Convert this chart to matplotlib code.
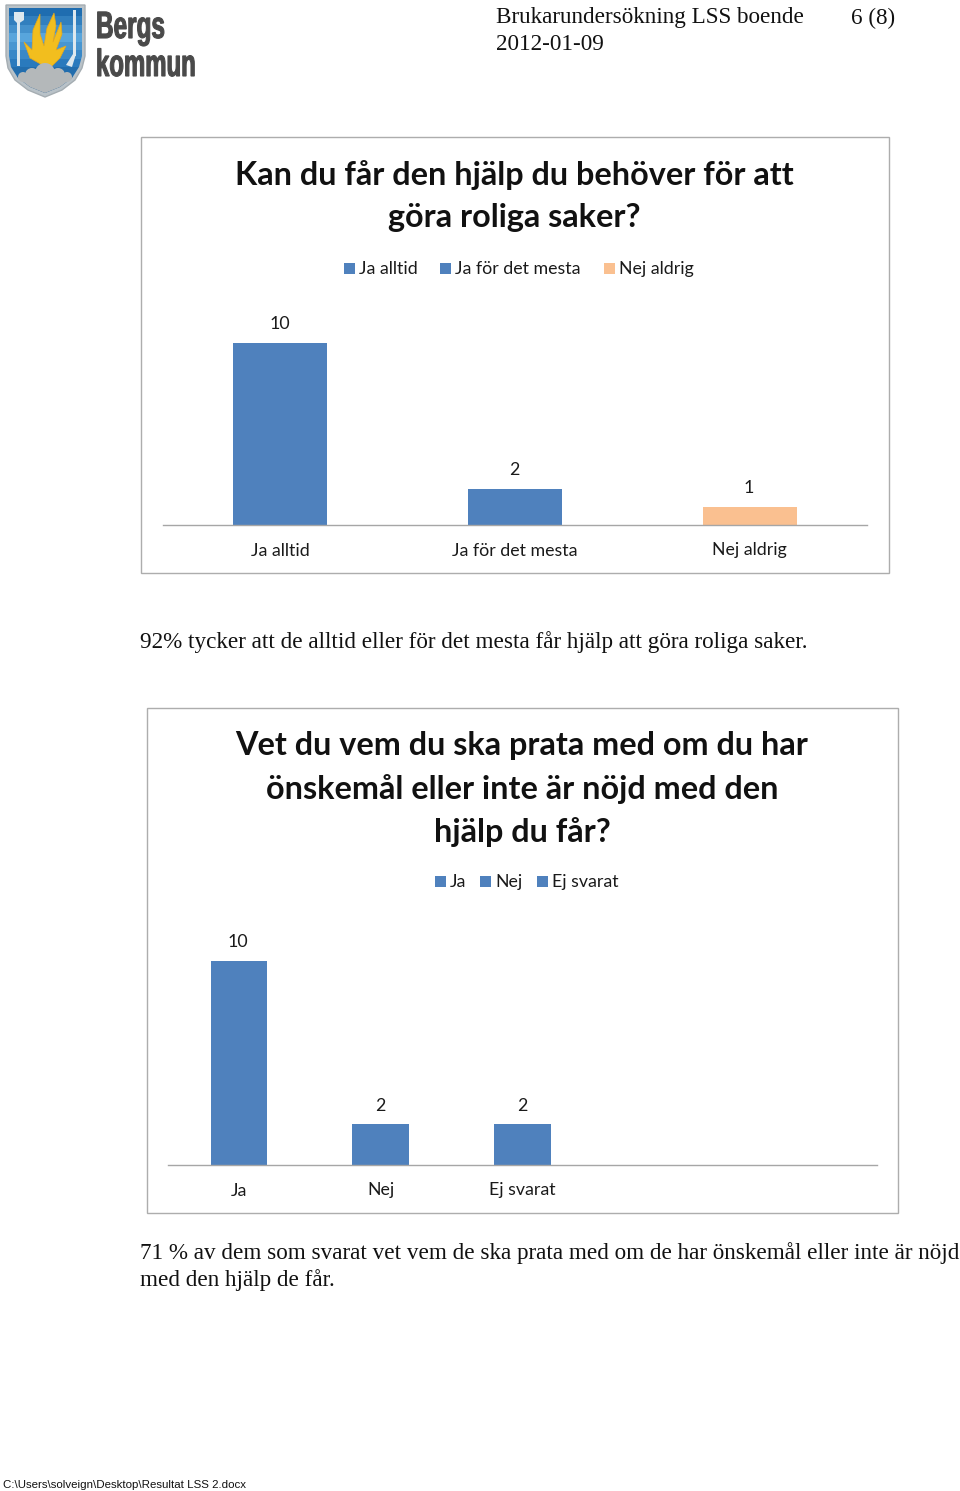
import matplotlib
matplotlib.use('Agg')
import matplotlib.pyplot as plt
from matplotlib.patches import Rectangle, Polygon, Circle, PathPatch
from matplotlib.textpath import TextPath
from matplotlib.font_manager import FontProperties
from matplotlib.transforms import Affine2D
from matplotlib.colors import LinearSegmentedColormap

W, H = 960, 1491

# chart 1
title1 = 'Kan du får den hjälp du behöver för att\ngöra roliga saker?'
cats1 = ['Ja alltid', 'Ja för det mesta', 'Nej aldrig']
vals1 = [10, 2, 1]
cols1 = ['#4F81BD', '#4F81BD', '#FAC090']

# chart 2, five slots on the axis but only three are used
title2 = 'Vet du vem du ska prata med om du har\nönskemål eller inte är nöjd med den\nhjälp du får?'
cats2 = ['Ja', 'Nej', 'Ej svarat']
vals2 = [10, 2, 2]
cols2 = ['#4F81BD', '#4F81BD', '#4F81BD']
slots2 = 5

header_left = 'Brukarundersökning LSS boende'
header_date = '2012-01-09'
header_page = '6 (8)'
text1 = '92% tycker att de alltid eller för det mesta får hjälp att göra roliga saker.'
text2a = '71 % av dem som svarat vet vem de ska prata med om de har önskemål eller inte är nöjd'
text2b = 'med den hjälp de får.'
footer = 'C:\\Users\\solveign\\Desktop\\Resultat LSS 2.docx'

SANS = 'Lato'
SERIF = 'Liberation Serif'
TXT = '#1a1a1a'
BODY = 16.65

fig = plt.figure(figsize=(W / 100, H / 100), dpi=100, facecolor='white')

# page layer in pixel coordinates
page = fig.add_axes([0, 0, 1, 1])
page.set_xlim(0, W)
page.set_ylim(H, 0)
page.axis('off')


def bar_chart(frame, axis_box, ymax, cats, vals, cols, nslots, title, title_x, title_y, legend_items, legend_y):
    fx0, fy0, fx1, fy1 = frame
    page.add_patch(Rectangle((fx0, fy0), fx1 - fx0, fy1 - fy0, fc='white', ec='#ADADAD', lw=1.0))

    x0, y0, x1, y1 = axis_box       # pixels: left, top, right, baseline
    ax = fig.add_axes([x0 / W, 1 - y1 / H, (x1 - x0) / W, (y1 - y0) / H])
    ax.patch.set_alpha(0)
    xs = list(range(len(cats)))
    ax.bar(xs, vals, width=0.4, color=cols)
    ax.set_xlim(-0.5, nslots - 0.5)
    ax.set_ylim(0, ymax)
    for x, v in zip(xs, vals):
        ax.annotate(str(v), (x, v), xytext=(-0.5, 13.4), textcoords='offset points', ha='center', va='center',
                    fontsize=12.8, family=SANS, color=TXT)
    ax.set_xticks(xs)
    ax.set_xticklabels(cats, fontsize=12.8, family=SANS, color=TXT)
    ax.tick_params(axis='x', length=0, pad=12.6)
    ax.set_yticks([])
    for s in ['top', 'left', 'right']:
        ax.spines[s].set_visible(False)
    ax.spines['bottom'].set_color('#A6A6A6')
    ax.spines['bottom'].set_linewidth(1.0)

    page.text(title_x, title_y, title, ha='center', va='top',
              fontsize=23.3, fontweight='bold', family=SANS, color='#111111', linespacing=1.53)

    for lx, name, c in legend_items:
        page.add_patch(Rectangle((lx, legend_y - 5), 11, 11, fc=c, ec='none'))
        page.text(lx + 15, legend_y + 1, name, ha='left', va='center', fontsize=12.8, family=SANS, color=TXT)


bar_chart((141, 137, 889, 573), (163, 300, 867, 525), 225 / 18.2, cats1, vals1, cols1, 3,
          title1, 514.5, 160, [(344, cats1[0], cols1[0]), (440, cats1[1], cols1[1]), (604, cats1[2], cols1[2])], 268)
bar_chart((147, 708, 898, 1213), (168, 915, 877, 1165), 250 / 20.4, cats2, vals2, cols2, slots2,
          title2, 522, 731.5, [(435, cats2[0], cols2[0]), (480, cats2[1], cols2[1]), (537, cats2[2], cols2[2])], 881)

# running text
page.text(496, 18, header_left, fontsize=BODY, family=SERIF, va='center', color='#111111')
page.text(496, 44, header_date, fontsize=BODY, family=SERIF, va='center', color='#111111')
page.text(851, 18, header_page, fontsize=BODY, family=SERIF, va='center', color='#111111')
page.text(140, 642, text1, fontsize=BODY, family=SERIF, va='center', color='#111111')
page.text(140, 1253, text2a, fontsize=BODY, family=SERIF, va='center', color='#111111')
page.text(140, 1280, text2b, fontsize=BODY, family=SERIF, va='center', color='#111111')
page.text(3, 1485, footer, fontsize=8.25, family='Liberation Sans', va='center', color='#111111')

# logo: shield
shield = [(6, 5), (85, 5), (85, 56), (82, 68), (75, 80), (62, 90), (45, 97), (28, 90), (15, 80), (8, 68), (6, 56)]
page.add_patch(Polygon(shield, closed=True, fc='#B9C2C8', ec='#A5ADB2', lw=1, zorder=0.5))
inner = [(9, 8), (82, 8), (82, 56), (79, 67), (72, 78), (60, 87), (45, 93), (30, 87), (18, 78), (11, 67), (9, 56)]
inner_patch = Polygon(inner, closed=True, fc='none', ec='none', zorder=0.6)
page.add_patch(inner_patch)
blues = LinearSegmentedColormap.from_list('sky', ['#1F6DB0', '#58A5DC', '#2A7ABD', '#14558F'])
im = page.imshow([[i / 9] for i in range(10)], cmap=blues, extent=(9, 82, 93, 8), aspect='auto', zorder=0.8)
im.set_clip_path(inner_patch)
page.set_xlim(0, W)
page.set_ylim(H, 0)
# flame
flame = [(44, 66), (30, 58), (24, 42), (32, 50), (33, 30), (40, 14), (40, 34), (44, 46), (47, 28), (54, 13),
         (56, 26), (53, 42), (61, 22), (62, 34), (56, 50), (66, 46), (60, 58), (52, 66)]
page.add_patch(Polygon(flame, closed=True, fc='#F2BE1E', ec='#E8A818', lw=0.5))
# axe and rifle
page.add_patch(Rectangle((17, 14), 2.5, 52, fc='#DDE8EE', ec='none'))
page.add_patch(Polygon([(14, 12), (24, 12), (24, 20), (18, 24), (14, 20)], closed=True, fc='#DDE8EE', ec='none'))
page.add_patch(Rectangle((73, 10), 2.5, 46, fc='#DDE8EE', ec='none'))
page.add_patch(Polygon([(73, 54), (76, 54), (72, 67), (66, 65)], closed=True, fc='#DDE8EE', ec='none'))
# clouds
for cx, cy, r in [(23, 77, 5), (32, 75, 7), (45, 73, 10), (58, 75, 7), (67, 77, 5)]:
    page.add_patch(Circle((cx, cy), r, fc='#B4B8BA', ec='none'))
page.add_patch(Polygon([(18, 78), (72, 78), (60, 87), (45, 93), (30, 87)], closed=True, fc='#B4B8BA', ec='none'))


def squeezed(s, x, base, size, sx):
    # narrow bold lettering of the logo, no condensed font installed
    tp = TextPath((0, 0), s, size=size, prop=FontProperties(family='Liberation Sans', weight='bold'))
    tr = Affine2D().scale(sx, -1).translate(x, base) + page.transData
    page.add_patch(PathPatch(tp, fc='#4A4A4A', ec='#4A4A4A', lw=0.8, transform=tr))


squeezed('Bergs', 96, 38, 38, 0.64)
squeezed('kommun', 96, 76, 38, 0.63)

fig.savefig('out.png', dpi=100, facecolor='white')
